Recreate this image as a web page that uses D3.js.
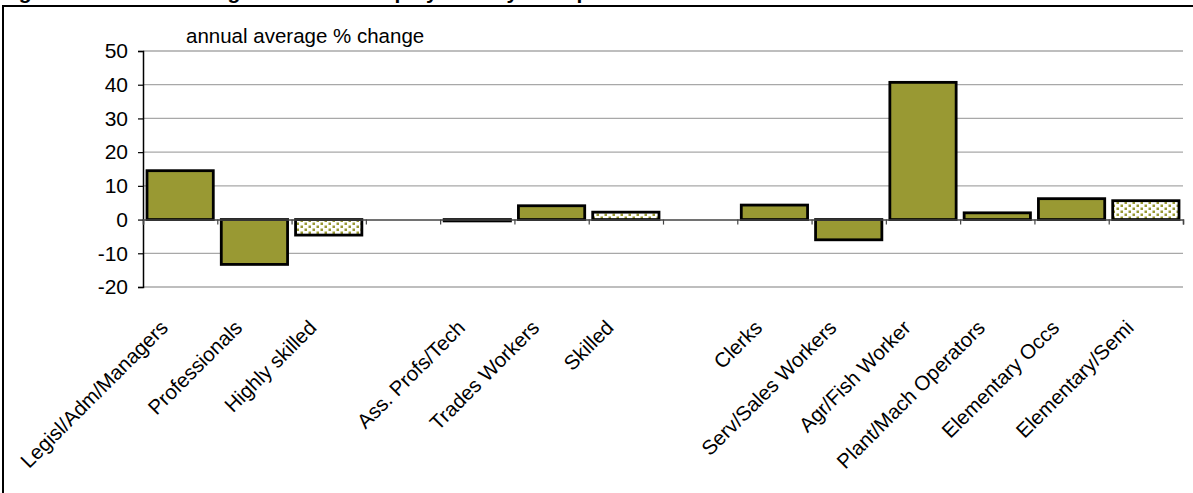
<!DOCTYPE html>
<html>
<head>
<meta charset="utf-8">
<script src="https://cdn.jsdelivr.net/npm/d3@7"></script>
<style>
  html, body { margin: 0; padding: 0; background: #fff; }
  svg { display: block; font-family: "Liberation Sans", Arial, sans-serif; }
</style>
</head>
<body>
<svg id="chart" width="1193" height="493"></svg>
<script>
// ---- data ----
const title = "Figure 2: Annual Average Growth in Employment by Occupation and Skill Level";
const axisTitle = "annual average % change";
const categories = ["Legisl/Adm/Managers", "Professionals", "Highly skilled", "",
  "Ass. Profs/Tech", "Trades Workers", "Skilled", " ",
  "Clerks", "Serv/Sales Workers", "Agr/Fish Worker", "Plant/Mach Operators",
  "Elementary Occs", "Elementary/Semi"];
const values = [14.5, -13.3, -4.6, null, -0.4, 4.1, 2.2, null, 4.3, -6.0, 40.7, 2.0, 6.2, 5.6];
const groupType = ["occupation", "occupation", "skill", null, "occupation", "occupation", "skill", null,
  "occupation", "occupation", "occupation", "occupation", "occupation", "skill"];
const yTicks = [-20, -10, 0, 10, 20, 30, 40, 50];

// ---- layout ----
const svg = d3.select("#chart");
const plotLeft = 143, plotRight = 1183, plotTop = 51, plotBottom = 287;
const olive = "#999933";

const defs = svg.append("defs");
const pat = defs.append("pattern").attr("id", "dots").attr("patternUnits", "userSpaceOnUse")
  .attr("width", 8).attr("height", 6);
pat.append("rect").attr("width", 8).attr("height", 6).attr("fill", "#fff");
pat.append("rect").attr("x", 0.5).attr("y", 0.5).attr("width", 2.5).attr("height", 2.5).attr("fill", olive);
pat.append("rect").attr("x", 4.5).attr("y", 3.5).attr("width", 2.5).attr("height", 2.5).attr("fill", olive);

// title (cut off at the top edge in the reference, only descenders visible)
svg.append("text").attr("x", 0).attr("y", -1)
  .attr("font-size", 21).attr("font-weight", "bold").text(title);

// frame
svg.append("rect").attr("x", 3).attr("y", 6).attr("width", 1200).attr("height", 500)
  .attr("fill", "none").attr("stroke", "#000").attr("stroke-width", 2);

const x = d3.scaleBand().domain(categories).range([plotLeft, plotRight]).paddingInner(0).paddingOuter(0);
const xi = d3.scaleLinear().domain([0, categories.length]).range([plotLeft, plotRight]);
const y = d3.scaleLinear().domain([-20, 50]).range([plotBottom, plotTop]);

// gridlines
svg.append("g").selectAll("line").data(yTicks.filter(t => t !== 0)).join("line")
  .attr("x1", plotLeft).attr("x2", plotRight)
  .attr("y1", d => y(d)).attr("y2", d => y(d))
  .attr("stroke", "#a8a8a8").attr("stroke-width", 1.3);

// y axis
const yAxis = svg.append("g").attr("transform", `translate(${plotLeft},0)`)
  .call(d3.axisLeft(y).tickValues(yTicks).tickSize(5).tickPadding(10).tickFormat(d => String(d)));
yAxis.select(".domain").attr("stroke", "#000").attr("stroke-width", 1.5);
yAxis.selectAll(".tick line").attr("stroke", "#000").attr("stroke-width", 1.2);
yAxis.selectAll(".tick text").attr("font-size", 21).attr("fill", "#000")
  .attr("font-family", "Liberation Sans, Arial, sans-serif");

// axis title
svg.append("text").attr("x", 186).attr("y", 43).attr("font-size", 20.5).text(axisTitle);

// bars
const pad = 4;
svg.append("g").selectAll("rect")
  .data(categories.map((c, i) => ({ c, v: values[i], t: groupType[i] })).filter(d => d.v !== null))
  .join("rect")
  .attr("x", d => x(d.c) + pad)
  .attr("width", x.bandwidth() - 2 * pad)
  .attr("y", d => y(Math.max(0, d.v)))
  .attr("height", d => Math.abs(y(d.v) - y(0)))
  .attr("fill", d => d.t === "skill" ? "url(#dots)" : olive)
  .attr("stroke", "#000").attr("stroke-width", 2.8);

// x axis at zero with ticks at category boundaries
const xAxis = svg.append("g").attr("transform", `translate(0,${y(0)})`)
  .call(d3.axisBottom(xi).tickValues(d3.range(0, categories.length + 1)).tickSize(5).tickFormat(""));
xAxis.select(".domain").attr("stroke", "#444").attr("stroke-width", 1.5);
xAxis.selectAll(".tick line").attr("stroke", "#444").attr("stroke-width", 1.2);

// category labels
svg.append("g").selectAll("text").data(categories.filter(c => c.trim() !== "")).join("text")
  .attr("transform", d => `translate(${x(d) + x.bandwidth() / 2 - 11},329) rotate(-45)`)
  .attr("text-anchor", "end").attr("font-size", 20.5).text(d => d);
</script>
</body>
</html>
